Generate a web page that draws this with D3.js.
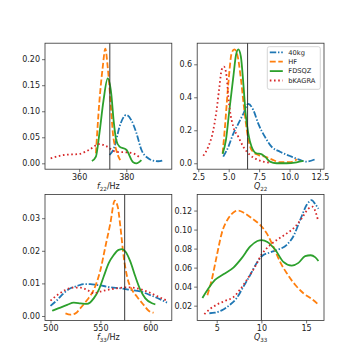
<!DOCTYPE html>
<html>
<head>
<meta charset="utf-8">
<script src="https://cdn.jsdelivr.net/npm/d3@7"></script>
<style>
  body { margin: 0; background: #fff; }
  svg { font-family: "DejaVu Sans", sans-serif; }
</style>
</head>
<body>
<div id="chart"></div>
<script>
/* DATA */
const seriesNames = ["40kg", "HF", "FDSQZ", "bKAGRA"];

// f22 / Hz
const f22_40kg = [[372.9,0.016],[375,0.032],[377.1,0.07],[380,0.093],[382.1,0.083],[384.3,0.058],[386.4,0.026],[389.3,0.0096],[391.4,0.005],[393.5,0.004],[395.7,0.006]];
const f22_HF = [[367.1,0.019],[368.6,0.12],[370,0.185],[371.1,0.22],[372.1,0.185],[373.3,0.12],[374.3,0.058],[375.7,0.026],[377.4,0.006]];
const f22_FDSQZ = [[365.4,0.0045],[367.1,0.013],[368.6,0.058],[370.3,0.12],[372.1,0.163],[373.6,0.134],[374.6,0.083],[375.7,0.045],[377.1,0.032],[380,0.026],[382.9,0.002],[384.3,0.0],[386.4,0.006]];
const f22_bKAGRA = [[347.9,0.0096],[353.6,0.016],[360,0.018],[364.3,0.026],[368.6,0.037],[371.4,0.033],[375.7,0.022],[380,0.021],[382.9,0.019],[385.7,0.0115]];

// Q22
const q22_40kg = [[4.55,0.04],[4.97,0.10],[5.38,0.18],[5.79,0.24],[6.2,0.30],[6.61,0.36],[7.02,0.323],[7.43,0.24],[7.98,0.16],[8.53,0.10],[9.21,0.07],[10.03,0.044],[10.72,0.024],[11.4,0.01],[12.09,0.024]];
const q22_HF = [[4.5,0.06],[4.69,0.22],[4.97,0.485],[5.24,0.667],[5.46,0.69],[5.71,0.657],[5.98,0.525],[6.25,0.343],[6.53,0.18],[6.88,0.08],[7.43,0.05],[7.98,0.04],[8.53,0.024],[9.21,0.006],[10.03,0.006],[10.6,0.024]];
const q22_FDSQZ = [[4.5,0.057],[4.77,0.14],[5.05,0.32],[5.38,0.525],[5.6,0.657],[5.79,0.69],[6.0,0.646],[6.2,0.485],[6.39,0.30],[6.61,0.18],[6.88,0.10],[7.29,0.06],[7.62,0.057],[7.98,0.04],[8.39,0.01],[8.94,0.0],[9.76,0.0],[10.58,0.006],[11.13,0.014]];
const q22_bKAGRA = [[2.91,0.046],[3.32,0.10],[3.73,0.20],[4.0,0.32],[4.23,0.46],[4.42,0.566],[4.61,0.586],[4.83,0.525],[4.97,0.40],[5.1,0.32],[5.38,0.22],[5.79,0.16],[6.2,0.10],[6.75,0.05],[7.29,0.024],[7.84,0.01],[8.39,0.004]];

// f33 / Hz
const f33_40kg = [[500,0.0031],[506.7,0.0049],[513.3,0.007],[520,0.0085],[526.7,0.0092],[533.3,0.0098],[540,0.0098],[546.7,0.0095],[553.3,0.0092],[560,0.0088],[570,0.0085],[580,0.008],[590,0.0075],[600,0.0064],[610,0.0051],[616.7,0.0041]];
const f33_HF = [[515,0.0008],[520,0.0004],[525,0.0008],[530,0.0024],[536.7,0.0049],[543.3,0.008],[550,0.0141],[555,0.0213],[560,0.0285],[564.3,0.0354],[567.3,0.0336],[570,0.0274],[573.3,0.0182],[576.7,0.0121],[581.7,0.008],[586.7,0.0059],[593.3,0.0034],[598.3,0.0016],[603.3,0.001]];
const f33_FDSQZ = [[501.7,0.0016],[508.3,0.0024],[516.7,0.0034],[523.3,0.0041],[530,0.0039],[536.7,0.0037],[543.3,0.0054],[548.3,0.008],[553.3,0.0121],[558.3,0.0162],[563.3,0.0187],[568.3,0.0203],[571.7,0.0205],[575,0.0198],[580,0.0167],[585,0.0121],[590,0.008],[595,0.0054],[601.7,0.0039],[605,0.0036]];
const f33_bKAGRA = [[500,0.0047],[506.7,0.0064],[515,0.008],[521.7,0.0087],[530,0.0087],[536.7,0.008],[543.3,0.007],[550,0.0075],[556.7,0.008],[566.7,0.0085],[576.7,0.0088],[586.7,0.0085],[596.7,0.0075],[606.7,0.0061],[616.7,0.0047]];

// Q33
const q33_40kg = [[4.18,0.012],[4.81,0.0126],[5.56,0.015],[6.49,0.021],[7.24,0.028],[7.99,0.04],[8.73,0.052],[9.48,0.065],[10.04,0.072],[10.97,0.076],[11.9,0.079],[12.84,0.084],[13.58,0.093],[14.33,0.11],[15.07,0.126],[15.63,0.131],[16.0,0.127],[16.38,0.122]];
const q33_HF = [[3.96,0.031],[4.44,0.047],[5.0,0.072],[5.56,0.096],[6.31,0.112],[6.87,0.118],[7.43,0.12],[8.17,0.117],[8.92,0.112],[9.85,0.105],[10.6,0.096],[11.34,0.082],[12.09,0.066],[12.84,0.054],[13.77,0.042],[14.7,0.033],[15.63,0.027],[16.27,0.022]];
const q33_FDSQZ = [[3.4,0.028],[4.07,0.038],[4.81,0.047],[5.75,0.053],[6.87,0.06],[7.8,0.07],[8.73,0.082],[9.55,0.088],[10.04,0.089],[10.67,0.087],[11.53,0.079],[12.46,0.066],[13.4,0.062],[14.14,0.065],[14.89,0.072],[15.52,0.073],[16.0,0.071],[16.38,0.067]];
const q33_bKAGRA = [[3.62,0.011],[4.25,0.0165],[5.0,0.021],[5.93,0.025],[6.87,0.029],[7.61,0.037],[8.36,0.047],[9.29,0.061],[10.04,0.074],[10.78,0.082],[11.71,0.089],[12.84,0.096],[13.77,0.103],[14.52,0.112],[15.26,0.122],[15.75,0.124],[16.0,0.12],[16.3,0.111]];

// ticks and reference values
const f22Ticks = [360, 380];
const q22Ticks = [2.5, 5.0, 7.5, 10.0, 12.5];
const f33Ticks = [500, 550, 600];
const q33Ticks = [5, 10, 15];
const f22YTicks = [0, 0.05, 0.10, 0.15, 0.20];
const q22YTicks = [0, 0.2, 0.4, 0.6];
const f33YTicks = [0, 0.01, 0.02, 0.03];
const q33YTicks = [0.02, 0.04, 0.06, 0.08, 0.10, 0.12];
const refValues = [373, 6.55, 574.3, 10.0];

/* CONSTANTS */
const width = 360;
const height = 360;
const colors = ["#1f77b4", "#ff7f0e", "#2ca02c", "#d62728"];
const dashes = ["6.4,1.8,1.4,1.8", "5.9,2.6", null, "1.6,2.6"];

const panels = [
    { x0: 45, y0: 43.2, data: [f22_40kg, f22_HF, f22_FDSQZ, f22_bKAGRA], xd: [345.5, 399.3], yd: [-0.0113, 0.2307],
      xt: f22Ticks, yt: f22YTicks, xf: d3.format("d"), yf: d3.format(".2f"), label: ["f", "22", "/Hz"], ref: refValues[0] },
    { x0: 197.2, y0: 43.2, data: [q22_40kg, q22_HF, q22_FDSQZ, q22_bKAGRA], xd: [2.41, 12.83], yd: [-0.036, 0.728],
      xt: q22Ticks, yt: q22YTicks, xf: d3.format(".1f"), yf: d3.format(".1f"), label: ["Q", "22", ""], ref: refValues[1], legend: true },
    { x0: 45, y0: 194.4, data: [f33_40kg, f33_HF, f33_FDSQZ, f33_bKAGRA], xd: [494.5, 621.5], yd: [-0.00135, 0.0373],
      xt: f33Ticks, yt: f33YTicks, xf: d3.format("d"), yf: d3.format(".2f"), label: ["f", "33", "/Hz"], ref: refValues[2] },
    { x0: 197.2, y0: 194.4, data: [q33_40kg, q33_HF, q33_FDSQZ, q33_bKAGRA], xd: [2.82, 17.0], yd: [0.0045, 0.137],
      xt: q33Ticks, yt: q33YTicks, xf: d3.format("d"), yf: d3.format(".2f"), label: ["Q", "33", ""], ref: refValues[3] }
];
const pw = 126.8;
const ph = 126;

const svg = d3.select("#chart")
    .append("svg")
    .attr("width", width)
    .attr("height", height);

panels.forEach(p => {
    const g = svg.append("g").attr("transform", "translate(" + p.x0 + "," + p.y0 + ")");

    const xScale = d3.scaleLinear().domain(p.xd).range([0, pw]);
    const yScale = d3.scaleLinear().domain(p.yd).range([ph, 0]);

    const line = d3.line()
        .x(d => xScale(d[0]))
        .y(d => yScale(d[1]))
        .curve(d3.curveMonotoneX);

    // CURVES
    p.data.forEach((s, i) => {
        g.append("path")
            .datum(s)
            .attr("d", line)
            .attr("fill", "none")
            .attr("stroke", colors[i])
            .attr("stroke-width", 1.8)
            .attr("stroke-dasharray", dashes[i]);
    });

    // reference line
    g.append("line")
        .attr("x1", xScale(p.ref)).attr("x2", xScale(p.ref))
        .attr("y1", 0).attr("y2", ph)
        .attr("stroke", "#222")
        .attr("stroke-width", 0.9);

    // AXES
    const xAxis = d3.axisBottom(xScale).tickValues(p.xt).tickFormat(p.xf).tickSizeOuter(0).tickSize(3);
    const yAxis = d3.axisLeft(yScale).tickValues(p.yt).tickFormat(p.yf).tickSizeOuter(0).tickSize(3);

    const gx = g.append("g").attr("transform", "translate(0," + ph + ")").call(xAxis);
    const gy = g.append("g").call(yAxis);
    [gx, gy].forEach(a => {
        a.select(".domain").remove();
        a.selectAll("text").attr("font-size", 8).attr("fill", "#222").attr("font-family", "DejaVu Sans");
        a.selectAll("line").attr("stroke", "#333").attr("stroke-width", 0.7);
    });
    gx.selectAll("text").attr("dy", "0.75em").attr("y", 5);
    gy.selectAll("text").attr("x", -5);

    // frame
    g.append("rect")
        .attr("width", pw).attr("height", ph)
        .attr("fill", "none")
        .attr("stroke", "#333")
        .attr("stroke-width", 0.8);

    // LABEL
    const lab = g.append("text")
        .attr("x", pw / 2)
        .attr("y", ph + 20)
        .attr("text-anchor", "middle")
        .attr("font-size", 8)
        .attr("fill", "#222");
    lab.append("tspan").attr("font-style", "italic").text(p.label[0]);
    lab.append("tspan").attr("font-size", 5.6).attr("dy", 2).text(p.label[1]);
    if (p.label[2]) lab.append("tspan").attr("dy", -2).text(p.label[2]);

    // LEGEND
    if (p.legend) {
        const lg = g.append("g").attr("transform", "translate(70.1,3.5)");
        lg.append("rect")
            .attr("width", 53).attr("height", 42.6)
            .attr("rx", 2)
            .attr("fill", "white").attr("fill-opacity", 0.8)
            .attr("stroke", "#ccc").attr("stroke-width", 0.8);
        seriesNames.forEach((name, i) => {
            const y = 5.6 + i * 9.4;
            lg.append("line")
                .attr("x1", 2.5).attr("x2", 15.5)
                .attr("y1", y).attr("y2", y)
                .attr("stroke", colors[i])
                .attr("stroke-width", 1.8)
                .attr("stroke-dasharray", dashes[i]);
            lg.append("text")
                .attr("x", 21).attr("y", y)
                .attr("dy", "0.35em")
                .attr("font-size", 6.7)
                .attr("fill", "#222")
                .text(name);
        });
    }
});
</script>
</body>
</html>
